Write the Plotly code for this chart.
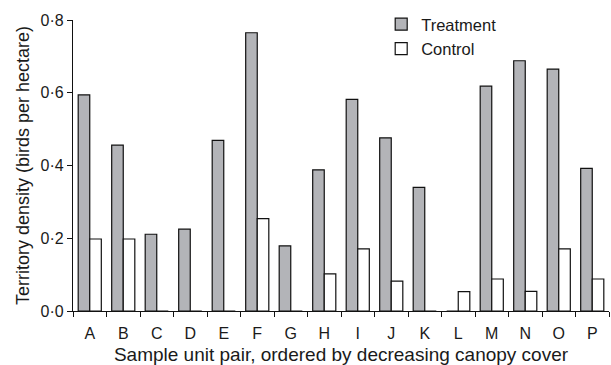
import plotly.graph_objects as go

categories = list("ABCDEFGHIJKLMNOP")
treatment = [0.594, 0.456, 0.211, 0.225, 0.469, 0.765, 0.179, 0.388, 0.582, 0.476, 0.340, 0.0, 0.618, 0.688, 0.665, 0.392]
control = [0.198, 0.198, 0.0, 0.0, 0.0, 0.254, 0.0, 0.102, 0.171, 0.082, 0.0, 0.053, 0.088, 0.054, 0.171, 0.088]
y_ticks = [0, 0.2, 0.4, 0.6, 0.8]
y_tick_labels = ["0·0", "0·2", "0·4", "0·6", "0·8"]

fig = go.Figure()
fig.add_trace(go.Bar(x=categories, y=treatment, name="Treatment",
                     marker=dict(color="#b3b4b8", line=dict(color="#111", width=1.2))))
fig.add_trace(go.Bar(x=categories, y=control, name="Control",
                     marker=dict(color="white", line=dict(color="#111", width=1.2))))

fig.update_layout(
    width=611, height=365,
    margin=dict(l=73, r=2, t=20, b=54),
    paper_bgcolor="white", plot_bgcolor="white",
    barmode="group", bargap=0.31, bargroupgap=0,
    font=dict(family="Liberation Sans, Arial, sans-serif", size=16, color="#1a1a1a"),
    showlegend=True,
    legend=dict(x=0.575, y=1.045, xanchor="left", yanchor="top",
                bgcolor="rgba(0,0,0,0)", font=dict(size=16.5),
                itemwidth=30, tracegroupgap=0),
    xaxis=dict(type="category", tickson="boundaries", ticks="outside", ticklen=5,
               tickcolor="#111", showline=True, linecolor="#111", linewidth=1.2,
               showgrid=False, tickfont=dict(size=16), ticklabelstandoff=8,
               automargin=False,
               title=dict(text="Sample unit pair, ordered by decreasing canopy cover",
                          font=dict(size=19), standoff=6)),
    yaxis=dict(range=[0, 0.8], tickvals=y_ticks, ticktext=y_tick_labels,
               ticks="outside", ticklen=5, tickcolor="#111", showline=True,
               linecolor="#111", linewidth=1.2, showgrid=False, zeroline=False,
               tickfont=dict(size=16), automargin=False,
               title=dict(text="Territory density (birds per hectare)",
                          font=dict(size=18), standoff=6)),
)

fig.write_html("out.html")
